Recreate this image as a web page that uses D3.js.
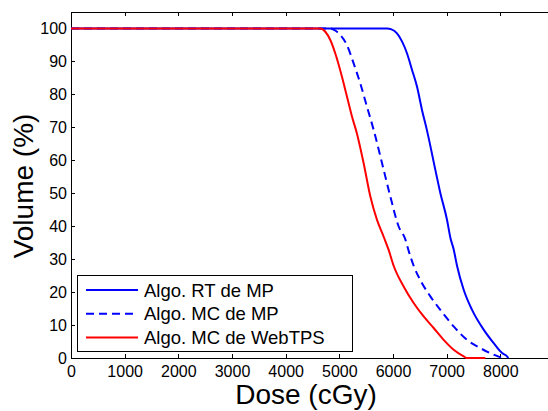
<!DOCTYPE html>
<head>
<meta charset="utf-8">
<title>DVH</title>
<script type="text/javascript" src="https://d3js.org/d3.v7.min.js"></script>
<style>
body { margin: 0; background: #fff; }
svg { display: block; font-family: "Liberation Sans", Arial, sans-serif; }
.axis path, .axis line { stroke: #000; stroke-width: 1; shape-rendering: crispEdges; }
.axis text { fill: #000; font-size: 16px; font-family: "Liberation Sans", Arial, sans-serif; }
.line { fill: none; stroke-width: 2; }
.legend text { font-size: 18.5px; fill: #000; }
</style>
</head>
<body>
<div id="container"></div>
<script>
//----------------------------DATA------------------------------//
const xTicks = [0, 1000, 2000, 3000, 4000, 5000, 6000, 7000, 8000];
const yTicks = [0, 10, 20, 30, 40, 50, 60, 70, 80, 90, 100];

// dose (cGy), volume (%)
const rtMP = [[0,100],[5890,100],[5960,99.8],[6075,98.5],[6170,96],[6262,92.4],[6355,87.4],
  [6448,82.3],[6541,75.2],[6634,69],[6789,57.1],[6883,50],[7007,41.9],[7069,36.5],[7130,33],
  [7193,28],[7317,20.7],[7473,14.6],[7689,8.6],[7876,4.5],[8032,1.5],[8125,0.5],[8150,0]];
const mcMP = [[0,100],[4832,100],[4930,99.3],[5019,98],[5143,94.9],[5267,89.4],[5391,83.3],
  [5516,76.2],[5640,69.2],[5796,59.1],[5950,49],[6106,39.9],[6230,36],[6292,32.5],[6385,28],
  [6541,22.7],[6696,18.7],[6882,14.6],[7130,9.6],[7379,5.5],[7628,3],[7876,1],[8032,0]];
const mcWeb = [[0,100],[4646,100],[4739,99],[4832,96.5],[4925,92.4],[5050,85.3],[5143,79.3],
  [5237,73.2],[5330,68],[5453,59.1],[5578,49],[5702,41.9],[5826,36.8],[5919,32.8],[6012,28],
  [6198,21.7],[6385,16.7],[6571,12.6],[6758,9.1],[6944,5.5],[7130,2.5],[7317,0.5],[7379,0],[7721,0]];

const seriesNames = ["Algo. RT de MP", "Algo. MC de MP", "Algo. MC de WebTPS"];
const seriesColors = ["#0000ff", "#0000ff", "#ff0000"];
const seriesDash = [null, "8,5", null];
const seriesData = [rtMP, mcMP, mcWeb];

//----------------------------SVG-------------------------------//
const width = 548, height = 411;
const plotLeft = 71, plotTop = 12, plotBottom = 358, plotRight = 554;

const svg = d3.select("#container").append("svg")
    .attr("width", width)
    .attr("height", height);

//---------------------------SCALES-----------------------------//
const x = d3.scaleLinear().domain([0, 9000]).range([plotLeft, plotRight]);
const y = d3.scaleLinear().domain([0, 105]).range([plotBottom, plotTop]);

//----------------------------AXES------------------------------//
svg.append("g").attr("class", "axis")
    .attr("transform", "translate(0," + plotBottom + ")")
    .call(d3.axisBottom(x).tickValues(xTicks).tickFormat(d3.format("d"))
        .tickSize(-4).tickPadding(8).tickSizeOuter(0));

svg.append("g").attr("class", "axis")
    .attr("transform", "translate(0," + plotTop + ")")
    .call(d3.axisTop(x).tickValues(xTicks).tickSize(-4).tickFormat("").tickSizeOuter(0));

svg.append("g").attr("class", "axis")
    .attr("transform", "translate(" + plotLeft + ",0)")
    .call(d3.axisLeft(y).tickValues(yTicks).tickSize(-4).tickPadding(4).tickSizeOuter(0));

svg.selectAll(".axis .domain").remove();
svg.append("rect")
    .attr("x", plotLeft).attr("y", plotTop)
    .attr("width", plotRight - plotLeft).attr("height", plotBottom - plotTop)
    .attr("fill", "none").attr("stroke", "#000")
    .attr("shape-rendering", "crispEdges");

//---------------------------LABELS-----------------------------//
svg.append("text")
    .attr("x", 306).attr("y", 404)
    .attr("text-anchor", "middle")
    .style("font-size", "28px")
    .text("Dose (cGy)");

svg.append("text")
    .attr("transform", "translate(33,186) rotate(-90)")
    .attr("text-anchor", "middle")
    .style("font-size", "28px")
    .text("Volume (%)");

//----------------------------LINES-----------------------------//
const line = d3.line()
    .x(function(d) { return x(d[0]); })
    .y(function(d) { return y(d[1]); })
    .curve(d3.curveMonotoneX);

svg.selectAll(".line")
    .data(seriesData)
    .enter()
    .append("path")
    .attr("class", "line")
    .attr("stroke", function(d, i) { return seriesColors[i]; })
    .attr("stroke-dasharray", function(d, i) { return seriesDash[i]; })
    .attr("d", line);

//---------------------------LEGEND-----------------------------//
const legend = svg.append("g").attr("class", "legend");
legend.append("rect")
    .attr("x", 77.5).attr("y", 275.5)
    .attr("width", 275).attr("height", 76)
    .attr("fill", "#fff").attr("stroke", "#000");

const rows = legend.selectAll(".row")
    .data(seriesNames)
    .enter()
    .append("g")
    .attr("transform", function(d, i) { return "translate(0," + (290 + i * 23.8) + ")"; });

rows.append("line")
    .attr("x1", 86).attr("x2", 138)
    .attr("stroke", function(d, i) { return seriesColors[i]; })
    .attr("stroke-dasharray", function(d, i) { return seriesDash[i]; })
    .attr("stroke-width", 2);

rows.append("text")
    .attr("x", 144).attr("y", 6.5)
    .text(function(d) { return d; });
</script>
</body>
